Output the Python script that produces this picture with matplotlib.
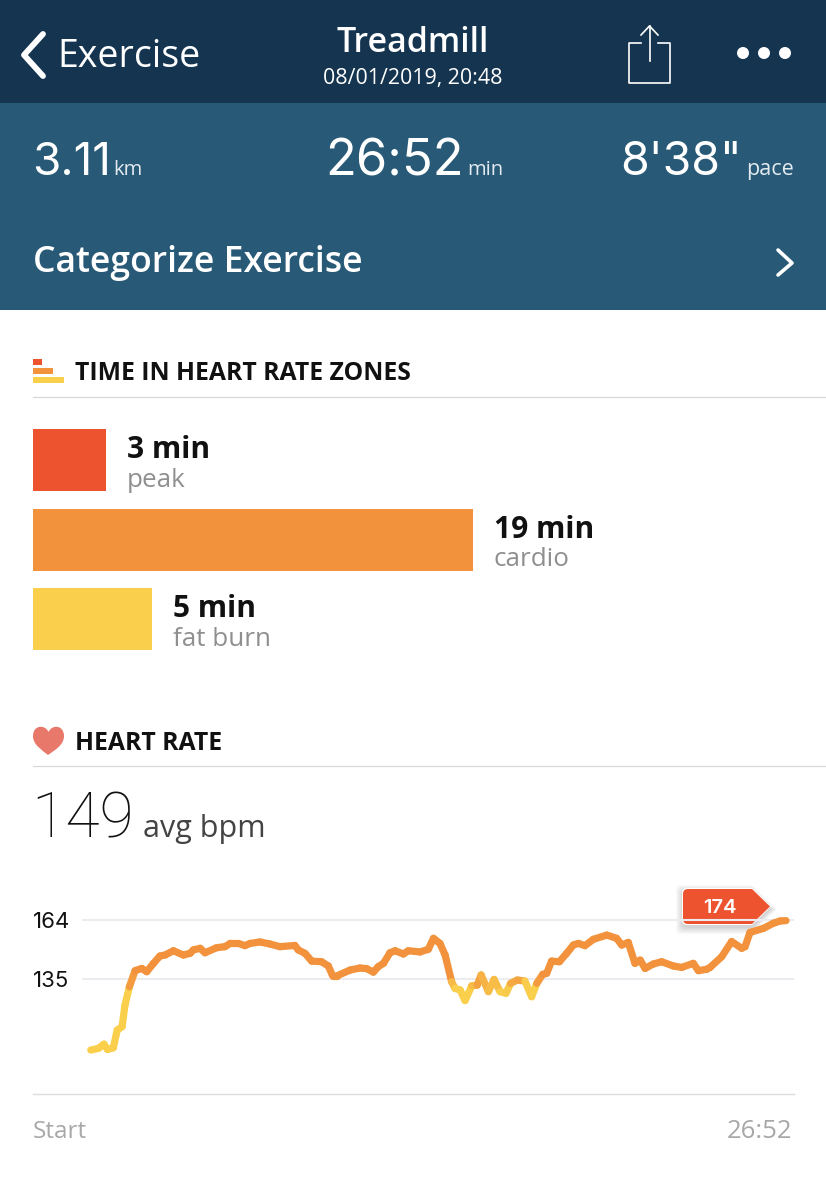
import numpy as np
from matplotlib import pyplot as plt
from matplotlib.collections import LineCollection
from matplotlib.colors import LinearSegmentedColormap, Normalize
from matplotlib.patches import Rectangle, PathPatch, Circle
from matplotlib.path import Path

plt.rcParams['font.family'] = ['Open Sans', 'DejaVu Sans']

# zones
zone_names = ['peak', 'cardio', 'fat burn']
zone_minutes = [3.15, 19, 5.15]
zone_labels = ['3 min', '19 min', '5 min']
zone_colors = ['#ee5330', '#f2923c', '#f9cf4b']

# summary
summary_values = ['3.11', '26:52', "8'38\""]
summary_units = ['km', 'min', 'pace']

# heart rate trace, minutes / bpm
hr_time = [0.03, 0.32, 0.54, 0.67, 0.90, 1.05, 1.24, 1.35, 1.52, 1.74, 2.00, 2.19, 2.45, 2.70, 2.90,
           3.22, 3.60, 3.86, 3.99, 4.25, 4.44, 4.89, 5.21, 5.41, 5.73, 5.98, 6.18, 6.56, 6.95, 7.33,
           7.91, 8.04, 8.30, 8.56, 8.94, 9.20, 9.37, 9.52, 10.04, 10.42, 10.68, 10.94, 11.13, 11.33,
           11.58, 11.78, 12.10, 12.29, 12.74, 13.06, 13.26, 13.51, 13.71, 13.96, 14.09, 14.29, 14.48,
           14.74, 14.95, 15.10, 15.38, 15.60, 15.83, 16.06, 16.24, 16.50, 16.79, 17.05, 17.25, 17.48,
           17.63, 17.82, 18.12, 18.40, 18.66, 18.85, 19.11, 19.43, 19.95, 20.33, 20.53, 20.78, 21.04,
           21.24, 21.43, 21.75, 22.07, 22.52, 22.84, 23.29, 23.49, 23.81, 23.94, 24.39, 24.77, 25.16,
           25.29, 25.48, 26.00, 26.38, 26.64, 26.87]
hr_bpm = [100.1, 100.9, 103.0, 100.4, 101.2, 109.9, 111.6, 122.2, 131.2, 139.1, 140.2, 138.6, 142.7, 146.3, 146.8,
          148.9, 146.8, 147.6, 149.3, 150.1, 147.9, 150.4, 150.9, 152.5, 152.5, 151.4, 152.5, 153.2, 152.2, 150.9,
          151.5, 149.3, 147.6, 143.8, 143.5, 141.4, 136.5, 136.5, 139.4, 140.4, 140.1, 138.4, 141.1, 142.7,
          147.9, 148.9, 147.3, 148.9, 148.3, 149.6, 155.0, 152.5, 146.8, 133.7, 130.4, 129.6, 124.4,
          131.7, 132.0, 137.0, 128.8, 134.8, 128.8, 128.0, 132.9, 134.5, 134.0, 126.3, 132.9, 137.3,
          137.8, 143.8, 143.5, 147.6, 151.7, 152.5, 151.4, 154.5, 156.6, 155.0, 151.7, 153.0, 142.7,
          144.3, 140.2, 142.4, 143.5, 141.4, 140.7, 142.7, 139.1, 139.8, 140.7, 146.0, 153.4, 150.1,
          150.9, 157.9, 159.9, 162.4, 163.5, 163.7]
hr_ticks = [164, 135]
hr_peak = 174

W, H = 826, 1200
fig = plt.figure(figsize=(W/100, H/100), dpi=100, facecolor='white')


def px_axes(x0, y0, x1, y1, **kw):
    # axes placed with pixel edges, y counted from the top
    return fig.add_axes([x0/W, 1-y1/H, (x1-x0)/W, (y1-y0)/H], **kw)


def tag_path(dx=0, dy=0, grow=0):
    # peak label: rounded on the left, pointed on the right
    x0, x1, xm, xt = 683-grow+dx, 683+5-grow+dx, 752+dx, 770+grow+dx
    y0, y1, yc = 889-grow+dy, 924+grow+dy, 906.5+dy
    verts = [(x1, y0), (xm, y0), (xt, yc), (xm, y1), (x1, y1), (x0, y1), (x0, y1-5), (x0, y0+5), (x0, y0), (x1, y0)]
    codes = [Path.MOVETO, Path.LINETO, Path.LINETO, Path.LINETO, Path.LINETO,
             Path.CURVE3, Path.CURVE3, Path.LINETO, Path.CURVE3, Path.CURVE3]
    return Path(verts, codes)


ui = px_axes(0, 0, W, H)
ui.set_xlim(0, W)
ui.set_ylim(H, 0)
ui.axis('off')

DARK = '#111111'
GREY = '#8f8f8f'

# header
ui.add_patch(Rectangle((0, 0), W, 103, color='#14344f', lw=0))
ui.add_patch(Rectangle((0, 103), W, 207, color='#285a77', lw=0))
ui.plot([43, 24, 43], [34, 55, 76], color='white', lw=4.2, solid_capstyle='round', solid_joinstyle='round')
ui.text(57, 67, 'Exercise', color='white', fontsize=27, va='baseline')
ui.text(413, 52, 'Treadmill', color='white', fontsize=24.5, va='baseline', ha='center', fontweight='semibold')
ui.text(413, 84, '08/01/2019, 20:48', color='white', fontsize=15.4, va='baseline', ha='center')
# share icon
ui.plot([641, 629, 629, 670, 670, 658], [43, 43, 83, 83, 43, 43], color='white', lw=1.2)
ui.plot([649.5, 649.5], [26, 61], color='white', lw=1.2)
ui.plot([641, 649.5, 658], [35, 26, 35], color='white', lw=1.2)
for cx in (743, 764, 785):
    ui.add_patch(Circle((cx, 53), 6, color='white', lw=0))

# summary row
val_x = [32, 325, 620]
val_size = [33, 36.5, 33.5]
unit_x = [113, 467, 746]
unit_size = [14.5, 14.5, 15.5]
for v, u, vx, vs, ux, us in zip(summary_values, summary_units, val_x, val_size, unit_x, unit_size):
    ui.text(vx, 175, v, color='white', fontsize=vs, va='baseline', family=['Inter', 'Open Sans'])
    ui.text(ux, 175, u, color='#e4ebf0', fontsize=us, va='baseline')
ui.text(33, 272, 'Categorize Exercise', color='white', fontsize=25.6, va='baseline', fontweight='semibold')
ui.plot([778, 792, 778], [250, 263, 275], color='white', lw=2.6, solid_capstyle='round', solid_joinstyle='round')

# section: zones
ui.add_patch(Rectangle((33, 359), 9, 6, color=zone_colors[0], lw=0))
ui.add_patch(Rectangle((33, 368), 20, 6, color=zone_colors[1], lw=0))
ui.add_patch(Rectangle((33, 376.5), 31, 6.5, color=zone_colors[2], lw=0))
ui.text(75, 380, 'TIME IN HEART RATE ZONES', color=DARK, fontsize=17.8, va='baseline', fontweight='bold')
ui.plot([33, W], [397, 397], color='#d8d8dc', lw=0.9)

# section: heart rate
heart = Path([(48, 755), (42, 750), (33, 745), (33, 736), (33, 725), (45, 724), (48.5, 732),
              (52, 724), (64, 725), (64, 736), (64, 745), (55, 750), (48, 755)],
             [Path.MOVETO] + [Path.CURVE4]*12)
ui.add_patch(PathPatch(heart, facecolor='#e8796a', lw=0))
ui.text(75, 750, 'HEART RATE', color=DARK, fontsize=17.8, va='baseline', fontweight='bold')
ui.plot([33, W], [766, 766], color='#d8d8dc', lw=0.9)
ui.text(31, 837, '149', color=DARK, fontsize=45, va='baseline', family=['Roboto', 'Open Sans'], fontweight='light')
ui.text(143, 837, 'avg bpm', color='#444444', fontsize=22, va='baseline')

# zone bars, 19 min is 440 px long
ax = px_axes(33, 420.5, W, 659)
ax.patch.set_alpha(0)
ax.axis('off')
ax.set_xlim(0, 19*793/440)
ax.set_ylim(2.5, -0.5)
ax.barh(range(3), zone_minutes, height=0.78, color=zone_colors)
for i in range(3):
    ax.annotate(zone_labels[i], (zone_minutes[i], i), xytext=(15, 1.5), textcoords='offset points',
                color=DARK, fontsize=21.5, fontweight='bold', va='baseline')
    ax.annotate(zone_names[i], (zone_minutes[i], i), xytext=(15, -19), textcoords='offset points',
                color=GREY, fontsize=18.7, va='baseline')

# heart rate chart, 25.9 px per minute and 59 px per 29 bpm
hr = px_axes(33, 880, 794, 1094)
hr.patch.set_alpha(0)
hr.set_xlim(-57/25.9, 26.87+8/25.9)
hr.set_ylim(78.5, 183.66)
hr.axis('off')
hr.hlines(hr_ticks, -0.31, 27.18, color='#ececf0', lw=1.5, zorder=1)
for t in hr_ticks:
    hr.annotate(str(t), (0, t), xycoords=('axes fraction', 'data'), color=DARK, fontsize=16,
                va='center_baseline', xytext=(0, 0), textcoords='offset points',
                family=['Inter', 'Open Sans'])
pts = np.column_stack([hr_time, hr_bpm])
segs = np.stack([pts[:-1], pts[1:]], axis=1)
cmap = LinearSegmentedColormap.from_list('zone', ['#f9cf4b', '#f9cf4b', '#f2923c'])
lc = LineCollection(segs, cmap=cmap, norm=Normalize(124, 136), linewidths=5.2, capstyle='round', zorder=3)
lc.set_array((pts[:-1, 1]+pts[1:, 1])/2)
hr.add_collection(lc)

# peak tag
for g in (7, 6, 5, 4, 3, 2, 1):
    ui.add_patch(PathPatch(tag_path(dy=3, grow=g), facecolor='black', alpha=0.022, lw=0, zorder=4))
ui.add_patch(PathPatch(tag_path(grow=1), facecolor='white', lw=0, zorder=5))
ui.add_patch(PathPatch(tag_path(), facecolor='#ee5330', lw=0, zorder=5))
ui.text(720, 913, str(hr_peak), color='white', fontsize=14.5, fontweight='semibold', ha='center', va='baseline', zorder=6,
        family=['Inter', 'Open Sans'])

ui.plot([33, 794], [1094, 1094], color='#dcdcdc', lw=1)
ui.text(33, 1138, 'Start', color='#a8a8a8', fontsize=17.5, va='baseline')
ui.text(792, 1138, '26:52', color='#a8a8a8', fontsize=18.5, va='baseline', ha='right')

fig.savefig('out.png', dpi=100)
